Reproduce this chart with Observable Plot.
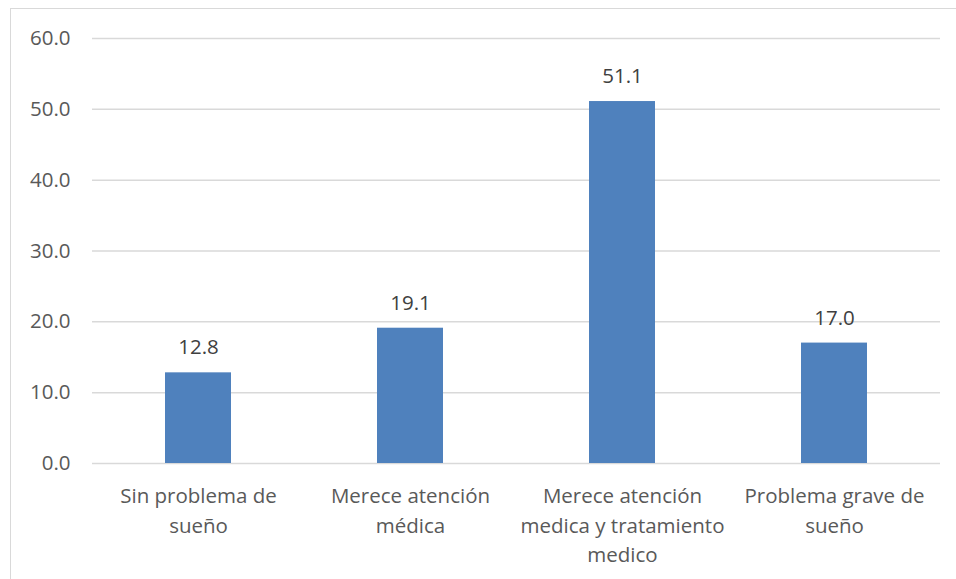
<!DOCTYPE html>
<html>
<head>
<meta charset="utf-8">
<script src="https://cdn.jsdelivr.net/npm/d3@7"></script>
<script src="https://cdn.jsdelivr.net/npm/@observablehq/plot@0.6"></script>
<style>
  html, body { margin: 0; padding: 0; background: #fff; }
  #wrap { position: relative; width: 956px; height: 579px; overflow: hidden; }
  #frame { position: absolute; left: 10px; top: 8px; width: 960px; height: 600px; border: 1.5px solid #D9D9D9; box-sizing: border-box; }
  #chart { position: absolute; left: 0; top: 0; }
</style>
</head>
<body>
<div id="wrap">
  <div id="frame"></div>
  <div id="chart"></div>
</div>
<script>
const categories = ["Sin problema de sueño", "Merece atención médica", "Merece atención medica y tratamiento medico", "Problema grave de sueño"];
const tickLabels = ["Sin problema de\nsueño", "Merece atención\nmédica", "Merece atención\nmedica y tratamiento\nmedico", "Problema grave de\nsueño"];
const values = [12.8, 19.1, 51.1, 17.0];
const yTicks = [0, 10, 20, 30, 40, 50, 60];

const data = categories.map((c, i) => ({category: c, value: values[i]}));
const labelOf = new Map(categories.map((c, i) => [c, tickLabels[i]]));
const font = "'Open Sans', sans-serif";

const chart = Plot.plot({
  width: 956,
  height: 579,
  marginLeft: 92,
  marginRight: 16,
  marginTop: 38,
  marginBottom: 116,
  style: {fontFamily: font, background: "transparent"},
  x: {domain: categories, paddingInner: 0.69, paddingOuter: 0.345, label: null},
  y: {domain: [0, 60], label: null},
  marks: [
    Plot.gridY(yTicks, {stroke: "#D9D9D9", strokeOpacity: 1, strokeWidth: 1.5}),
    Plot.barY(data, {x: "category", y: "value", fill: "#4F81BD"}),
    Plot.text(data, {x: "category", y: "value", text: d => d.value.toFixed(1), dy: -25, fill: "#404040", fontSize: 20.5, fontFamily: font}),
    Plot.axisY({ticks: yTicks, tickFormat: d => d.toFixed(1), tickSize: 0, tickPadding: 22, fontSize: 20.5, fill: "#595959", fontFamily: font, label: null}),
    Plot.axisX({tickFormat: d => labelOf.get(d), tickSize: 0, tickPadding: 19, fontSize: 20.5, lineHeight: 1.43, fill: "#595959", fontFamily: font, label: null})
  ]
});
document.getElementById("chart").appendChild(chart);
</script>
</body>
</html>
